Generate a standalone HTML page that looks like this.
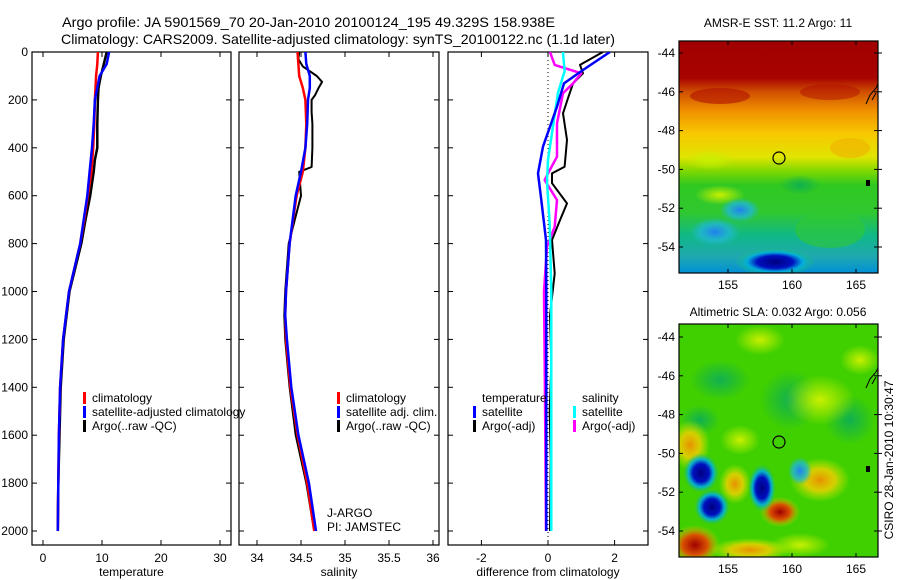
<!DOCTYPE html>
<html><head><meta charset="utf-8">
<style>
html,body{margin:0;padding:0;background:#fff}
svg{display:block;font-family:"Liberation Sans",sans-serif}
</style></head>
<body>
<svg id="fig" width="900" height="580" viewBox="0 0 900 580" xmlns="http://www.w3.org/2000/svg">
<defs>
  <linearGradient id="sstGrad" x1="0" y1="0" x2="0" y2="1">
    <stop offset="0" stop-color="#a00000"/>
    <stop offset="0.16" stop-color="#a80400"/>
    <stop offset="0.22" stop-color="#d05000"/>
    <stop offset="0.3" stop-color="#f09000"/>
    <stop offset="0.4" stop-color="#f8c800"/>
    <stop offset="0.5" stop-color="#e0e400"/>
    <stop offset="0.56" stop-color="#80d800"/>
    <stop offset="0.62" stop-color="#30c820"/>
    <stop offset="0.74" stop-color="#30c830"/>
    <stop offset="0.84" stop-color="#10b888"/>
    <stop offset="0.93" stop-color="#20a8b0"/>
    <stop offset="1" stop-color="#0090d8"/>
  </linearGradient>
  <radialGradient id="blueBlob"><stop offset="0" stop-color="#000080"/><stop offset="0.45" stop-color="#0010c0"/><stop offset="0.7" stop-color="#00b0e0" stop-opacity="0.9"/><stop offset="1" stop-color="#20c060" stop-opacity="0"/></radialGradient>
  <radialGradient id="cyanBlob"><stop offset="0" stop-color="#2080f0"/><stop offset="0.6" stop-color="#20b8d0" stop-opacity="0.8"/><stop offset="1" stop-color="#20b8d0" stop-opacity="0"/></radialGradient>
  <radialGradient id="orangeBlob"><stop offset="0" stop-color="#e89000"/><stop offset="0.5" stop-color="#f8d000" stop-opacity="0.8"/><stop offset="1" stop-color="#c8f000" stop-opacity="0"/></radialGradient>
  <radialGradient id="redBlob"><stop offset="0" stop-color="#a00000"/><stop offset="0.5" stop-color="#d85000"/><stop offset="1" stop-color="#f0d000" stop-opacity="0"/></radialGradient>
  <radialGradient id="yelBlob"><stop offset="0" stop-color="#c8f000"/><stop offset="1" stop-color="#c8f000" stop-opacity="0"/></radialGradient>
  <radialGradient id="dgBlob"><stop offset="0" stop-color="#10b050"/><stop offset="1" stop-color="#10b050" stop-opacity="0"/></radialGradient>
  <clipPath id="clipMap1"><rect x="679" y="41" width="199" height="232"/></clipPath>
  <clipPath id="clipMap2"><rect x="679" y="324" width="199" height="233"/></clipPath>
  <clipPath id="clipP1"><rect x="32" y="52" width="199" height="493"/></clipPath>
  <clipPath id="clipP2"><rect x="239" y="52" width="200" height="493"/></clipPath>
  <clipPath id="clipP3"><rect x="448" y="52" width="200" height="493"/></clipPath>
</defs>

<text x="62" y="27" font-size="14" textLength="493" lengthAdjust="spacingAndGlyphs">Argo profile: JA 5901569_70 20-Jan-2010 20100124_195 49.329S 158.938E</text>
<text x="61" y="44" font-size="14" textLength="554" lengthAdjust="spacingAndGlyphs">Climatology: CARS2009. Satellite-adjusted climatology: synTS_20100122.nc (1.1d later)</text>

<g id="panels"></g>

<!-- Map 1 SST -->
<g>
  <text x="778" y="27" font-size="12" text-anchor="middle">AMSR-E SST: 11.2 Argo: 11</text>
  <g clip-path="url(#clipMap1)">
    <rect x="679" y="41" width="199" height="232" fill="url(#sstGrad)"/>
    <ellipse cx="720" cy="96" rx="30" ry="8" fill="#b01000" opacity="0.6"/>
    <ellipse cx="830" cy="92" rx="30" ry="8" fill="#b01000" opacity="0.5"/>
    <ellipse cx="710" cy="160" rx="25" ry="10" fill="url(#yelBlob)"/>
    <ellipse cx="800" cy="185" rx="20" ry="10" fill="url(#dgBlob)"/>
    <ellipse cx="720" cy="195" rx="25" ry="10" fill="url(#yelBlob)"/>
    <ellipse cx="715" cy="232" rx="25" ry="14" fill="url(#cyanBlob)"/>
    <ellipse cx="740" cy="210" rx="20" ry="12" fill="url(#cyanBlob)"/>
    <ellipse cx="775" cy="262" rx="40" ry="14" fill="url(#blueBlob)"/>
    <ellipse cx="830" cy="230" rx="35" ry="18" fill="#30c830" opacity="0.6"/>
    <ellipse cx="850" cy="148" rx="20" ry="10" fill="#f0b000" opacity="0.6"/>
  </g>
  <rect x="679" y="41" width="199" height="232" fill="none" stroke="#000" stroke-width="1.2"/>
  <circle cx="779" cy="158" r="6" fill="none" stroke="#000" stroke-width="1.2"/>
  <path d="M866 104 L870 95 L876 88 L878 84 M872 100 L876 93" stroke="#000" fill="none"/>
  <rect x="866" y="180" width="4" height="6" fill="#000"/>
  <g id="map1axes"></g>
</g>

<!-- Map 2 SLA -->
<g>
  <text x="778" y="316" font-size="12" text-anchor="middle">Altimetric SLA: 0.032 Argo: 0.056</text>
  <g clip-path="url(#clipMap2)">
    <rect x="679" y="324" width="199" height="233" fill="#40d000"/>
    <ellipse cx="720" cy="380" rx="30" ry="20" fill="url(#dgBlob)"/>
    <ellipse cx="790" cy="400" rx="30" ry="30" fill="url(#dgBlob)"/>
    <ellipse cx="700" cy="420" rx="20" ry="15" fill="url(#dgBlob)"/>
    <ellipse cx="850" cy="420" rx="25" ry="25" fill="url(#dgBlob)"/>
    <ellipse cx="820" cy="400" rx="35" ry="25" fill="url(#yelBlob)"/>
    <ellipse cx="760" cy="340" rx="25" ry="15" fill="url(#yelBlob)"/>
    <ellipse cx="860" cy="360" rx="20" ry="15" fill="url(#yelBlob)"/>
    <ellipse cx="690" cy="445" rx="20" ry="25" fill="url(#orangeBlob)"/>
    <ellipse cx="740" cy="440" rx="20" ry="15" fill="url(#yelBlob)"/>
    <ellipse cx="735" cy="484" rx="16" ry="20" fill="url(#orangeBlob)"/>
    <ellipse cx="820" cy="480" rx="30" ry="22" fill="url(#orangeBlob)"/>
    <ellipse cx="780" cy="512" rx="20" ry="15" fill="url(#redBlob)"/>
    <ellipse cx="695" cy="545" rx="25" ry="20" fill="url(#redBlob)"/>
    <ellipse cx="750" cy="550" rx="40" ry="12" fill="url(#orangeBlob)"/>
    <ellipse cx="800" cy="545" rx="30" ry="12" fill="url(#yelBlob)"/>
    <ellipse cx="701" cy="473" rx="18" ry="20" fill="url(#blueBlob)"/>
    <ellipse cx="712" cy="507" rx="18" ry="18" fill="url(#blueBlob)"/>
    <ellipse cx="762" cy="488" rx="14" ry="24" fill="url(#blueBlob)"/>
    <ellipse cx="800" cy="471" rx="12" ry="14" fill="url(#cyanBlob)"/>
  </g>
  <rect x="679" y="324" width="199" height="233" fill="none" stroke="#000" stroke-width="1.2"/>
  <circle cx="779" cy="442" r="6" fill="none" stroke="#000" stroke-width="1.2"/>
  <path d="M866 388 L870 379 L876 372 L878 368 M872 384 L876 377" stroke="#000" fill="none"/>
  <rect x="866" y="466" width="4" height="6" fill="#000"/>
  <g id="map2axes"></g>
</g>

<text transform="translate(893,460) rotate(-90)" font-size="12" text-anchor="middle">CSIRO 28-Jan-2010 10:30:47</text>
</svg>

<script>
// ---- data ----
const depthTicks = [0,200,400,600,800,1000,1200,1400,1600,1800,2000];
const tempTicks = [0,10,20,30];
const salTicks = [34,34.5,35,35.5,36];
const diffTicks = [-2,0,2];

const tClimDepth = [0,50,100,200,300,400,500,600,700,800,1000,1200,1400,1600,1800,2000];
const tClim      = [9.3,9.2,9.0,8.8,8.7,8.5,8.2,7.6,7.0,6.3,4.4,3.4,2.9,2.7,2.6,2.5];
const tSatDepth  = [0,50,100,200,300,400,500,600,700,800,1000,1200,1400,1600,1800,2000];
const tSat       = [11.2,10.8,9.6,8.8,8.6,8.3,7.9,7.5,6.9,6.3,4.4,3.4,2.9,2.7,2.6,2.5];
const tArgoDepth = [0,50,100,150,200,300,400,450,500,600,700,800,1000,1200,1400,1600,1800,2000];
const tArgo      = [10.8,10.3,9.8,9.4,9.3,9.2,9.2,8.8,8.6,8.0,7.2,6.5,4.5,3.5,3.0,2.8,2.6,2.5];

const sClimDepth = [0,50,100,150,200,300,400,500,600,800,1000,1100,1200,1400,1600,1800,2000];
const sClim      = [34.46,34.47,34.48,34.52,34.55,34.56,34.55,34.52,34.45,34.37,34.33,34.32,34.33,34.38,34.46,34.57,34.65];
const sSatDepth  = [0,50,100,150,200,300,400,500,600,800,1000,1100,1200,1400,1600,1800,2000];
const sSat       = [34.55,34.56,34.6,34.6,34.58,34.57,34.55,34.5,34.44,34.37,34.33,34.32,34.34,34.39,34.47,34.59,34.67];
const sArgoDepth = [0,30,60,100,125,150,180,200,250,300,400,480,500,600,700,800,1000,1100,1200,1400,1600,1800,2000];
const sArgo      = [34.48,34.47,34.52,34.68,34.74,34.70,34.66,34.62,34.62,34.63,34.63,34.62,34.48,34.5,34.43,34.36,34.32,34.31,34.32,34.37,34.44,34.56,34.65];

const dTSatDepth = [0,75,131,228,312,395,507,618,785,1000,1500,2000];
const dTSat      = [1.86,1.05,0.48,0.27,0.06,-0.15,-0.3,-0.2,-0.06,-0.05,-0.05,-0.05];
const dTArgoDepth= [0,54,89,131,193,256,367,479,507,548,632,702,785,924,1100,1300,1500,1700,2000];
const dTArgo     = [1.65,0.96,1.05,0.75,0.6,0.45,0.57,0.5,0.12,0.12,0.57,0.36,0.12,0.2,0.06,0.1,0.05,0.08,0.06];
const dSSatDepth = [0,80,170,310,450,540,720,1000,1500,2000];
const dSSat      = [0.45,0.5,0.3,0.15,0.0,-0.03,0.05,0.1,0.1,0.1];
const dSArgoDepth= [0,54,89,131,172,298,437,507,535,618,730,813,1000,1300,1600,2000];
const dSArgo     = [0.06,0.2,1.0,0.75,0.45,0.27,0.27,0.0,-0.1,0.27,0.2,-0.03,-0.12,-0.1,-0.08,-0.06];

const latTicks = [-44,-46,-48,-50,-52,-54];
const lonTicks = [155,160,165];

// ---- axes ----
const NS = 'http://www.w3.org/2000/svg';
const svg = document.getElementById('fig');
const panels = document.getElementById('panels');
const Y = d => 52 + d * 0.2395;
const X1 = v => 43 + (v - 0) * 5.9;
const X2 = v => 257 + (v - 34) * 88;
const X3 = v => 548 + v * 33.3;
const latY1 = lat => 53 + (-44 - lat) * 19.4;
const latY2 = lat => 337 + (-44 - lat) * 19.4;
const lonX = lon => 728 + (lon - 155) * 12.8;

function mk(tag, attrs, parent){
  const e = document.createElementNS(NS, tag);
  for (const k in attrs) e.setAttribute(k, attrs[k]);
  (parent || svg).appendChild(e);
  return e;
}
function txt(x,y,s,size,anchor,parent){
  const t = mk('text',{x:x,y:y,'font-size':size,'text-anchor':anchor||'start'},parent);
  t.textContent = s;
  return t;
}

function panel(name, x0, x1, X, ticks, label, fmt){
  const g = mk('g',{},panels);
  
  
  mk('rect',{x:x0,y:52,width:x1-x0,height:493,fill:'none',stroke:'#000','stroke-width':1.2},g);
  ticks.forEach(v=>{
    const x = X(v);
    mk('line',{x1:x,x2:x,y1:545,y2:540,stroke:'#000'},g);
    mk('line',{x1:x,x2:x,y1:52,y2:57,stroke:'#000'},g);
    const t = txt(x,562,fmt(v),12,'middle',g);
    
    
  });
  depthTicks.forEach(d=>{
    const y = Y(d);
    mk('line',{x1:x0,x2:x0+5,y1:y,y2:y,stroke:'#000'},g);
    mk('line',{x1:x1-5,x2:x1,y1:y,y2:y,stroke:'#000'},g);
  });
  const l = txt((x0+x1)/2,576,label,12,'middle',g);
  
  
  return g;
}
function series(g, X, vals, depths, color, w, clip, name){
  let d = '';
  vals.forEach((v,i)=>{ d += (i?'L':'M') + X(v).toFixed(1) + ' ' + Y(depths[i]).toFixed(1) + ' '; });
  const p = mk('path',{d:d,fill:'none',stroke:color,'stroke-width':w,'clip-path':clip,'stroke-linejoin':'round'},g);
  
  
}
function legend(g, x, y, items){
  items.forEach((it,i)=>{
    const yy = y + i*14;
    if (it[1]) mk('rect',{x:x,y:yy-10,width:3,height:12,fill:it[1]},g);
    const t = txt(x+9,yy,it[0],12,'start',g);
    
    
  });
}

depthTicks.forEach(d=>{
  const t = txt(28, Y(d)+4, String(d), 12, 'end', panels);
  
  
});

const g1 = panel('temperature-panel',32,231,X1,tempTicks,'temperature',v=>String(v));
series(g1,X1,tArgo,tArgoDepth,'#000',2.5,'url(#clipP1)','temp-argo-line');
series(g1,X1,tClim,tClimDepth,'#ff0000',2.5,'url(#clipP1)','temp-climatology-line');
series(g1,X1,tSat,tSatDepth,'#0000ff',2.5,'url(#clipP1)','temp-satellite-line');
legend(g1,83,402,[['climatology','#ff0000'],['satellite-adjusted climatology','#0000ff'],['Argo(..raw -QC)','#000']]);

const g2 = panel('salinity-panel',239,439,X2,salTicks,'salinity',v=>String(v));
series(g2,X2,sArgo,sArgoDepth,'#000',2,'url(#clipP2)','sal-argo-line');
series(g2,X2,sClim,sClimDepth,'#ff0000',2.5,'url(#clipP2)','sal-climatology-line');
series(g2,X2,sSat,sSatDepth,'#0000ff',2.5,'url(#clipP2)','sal-satellite-line');
legend(g2,337,402,[['climatology','#ff0000'],['satellite adj. clim.','#0000ff'],['Argo(..raw -QC)','#000']]);
txt(327,517,'J-ARGO',12,'start',g2);
txt(327,531,'PI: JAMSTEC',12,'start',g2);

const g3 = panel('difference-panel',448,648,X3,diffTicks,'difference from climatology',v=>String(v));
mk('line',{x1:X3(0),x2:X3(0),y1:52,y2:545,stroke:'#000','stroke-dasharray':'1,3'},g3);
series(g3,X3,dTArgo,dTArgoDepth,'#000',2,'url(#clipP3)','diff-temp-argo-line');
series(g3,X3,dSArgo,dSArgoDepth,'#ff00ff',2.5,'url(#clipP3)','diff-sal-argo-line');
series(g3,X3,dSSat,dSSatDepth,'#00ffff',2.5,'url(#clipP3)','diff-sal-satellite-line');
series(g3,X3,dTSat,dTSatDepth,'#0000ff',2.5,'url(#clipP3)','diff-temp-satellite-line');
legend(g3,473,402,[['temperature',null],['satellite','#0000ff'],['Argo(-adj)','#000']]);
legend(g3,573,402,[['salinity',null],['satellite','#00ffff'],['Argo(-adj)','#ff00ff']]);

function mapAxes(id, latY, top, bottom){
  const g = document.getElementById(id);
  latTicks.forEach(l=>{
    const y = latY(l);
    mk('line',{x1:679,x2:683,y1:y,y2:y,stroke:'#000'},g);
    mk('line',{x1:874,x2:882,y1:y,y2:y,stroke:'#000'},g);
    const t = txt(675,y+4,String(l),12,'end',g);
    
    
  });
  lonTicks.forEach(l=>{
    const x = lonX(l);
    mk('line',{x1:x,x2:x,y1:top,y2:top+4,stroke:'#000'},g);
    mk('line',{x1:x,x2:x,y1:bottom-4,y2:bottom,stroke:'#000'},g);
    const t = txt(x,bottom+16,String(l),12,'middle',g);
    
    
  });
}
mapAxes('map1axes', latY1, 41, 273);
mapAxes('map2axes', latY2, 324, 557);
</script>
</body></html>
